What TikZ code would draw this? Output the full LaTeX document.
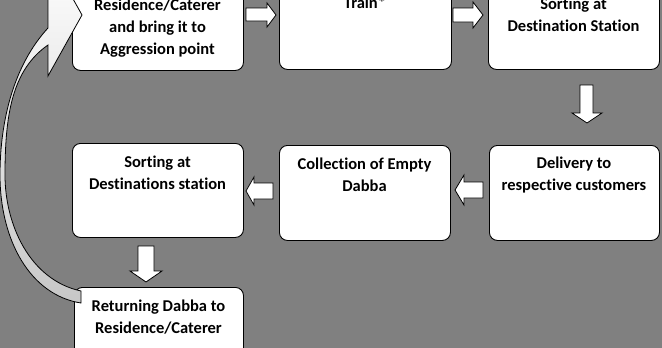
\documentclass[tikz,border=0pt]{standalone}
\usepackage{fontspec}
\setmainfont{Carlito}[Ligatures={NoCommon}]
\begin{document}
\begin{tikzpicture}[x=1pt,y=-1pt,
  box/.style={draw=black, line width=0.9pt, fill=white, rounded corners=8pt, inner sep=0pt, anchor=north west},
  blk/.style={draw=black, line width=0.8pt, fill=white, line join=miter},
  txt/.style={anchor=north, inner sep=0pt, align=center, font=\fontsize{16.5}{22}\selectfont\bfseries}]
\clip (0,0) rectangle (662,348);
\fill[black!50] (0,0) rectangle (662,348);
% boxes
\node[box, minimum width=171pt, minimum height=95pt] (b1) at (72,-25) {};
\node[box, minimum width=172pt, minimum height=94pt] (b2) at (279,-25) {};
\node[box, minimum width=171pt, minimum height=94pt] (b3) at (488,-25) {};
\node[box, minimum width=171pt, minimum height=94pt] (b4) at (72,143) {};
\node[box, minimum width=171pt, minimum height=95pt] (b5) at (279,145) {};
\node[box, minimum width=170pt, minimum height=95pt] (b6) at (489,145) {};
\node[box, minimum width=169pt, minimum height=95pt] (b7) at (74,287) {};
% texts
\node[txt] (t1) at (157.5,-5.4) {\strut Residence/Caterer\\and bring it to\\Aggression point};
\node[txt] (t2) at (365,-7.4) {\strut Train*};
\node[txt] (t3) at (573.5,-6.4) {\strut Sorting at\\Destination Station};
\node[txt] (t4) at (157.5,151.6) {\strut Sorting at\\Destinations station};
\node[txt] (t5) at (364.5,153.6) {\strut Collection of Empty\\Dabba};
\node[txt] (t6) at (574,152.6) {\strut Delivery to\\respective customers};
\node[txt] (t7) at (158.5,295.6) {\strut Returning Dabba to\\Residence/Caterer};
% block arrows
\draw[blk] (246,8) -- (267,8) -- (267,3) -- (276,15) -- (267,27) -- (267,21) -- (246,21) -- cycle;
\draw[blk] (453,8) -- (473,8) -- (473,2) -- (483,15) -- (473,28) -- (473,22) -- (453,22) -- cycle;
\draw[blk] (580,85) -- (593,85) -- (593,113) -- (602,113) -- (587,123) -- (572,113) -- (580,113) -- cycle;
\draw[blk] (483,182) -- (464,182) -- (464,175) -- (455,190) -- (464,205) -- (464,198) -- (483,198) -- cycle;
\draw[blk] (273,183) -- (254,183) -- (254,177) -- (246,191) -- (254,205) -- (254,199) -- (273,199) -- cycle;
\draw[blk] (138,246) -- (154,246) -- (154,271) -- (162,271) -- (146,282) -- (130,271) -- (138,271) -- cycle;
% curved return arrow
\path[draw=black, line width=0.8pt, line join=miter, top color=white, middle color=white, bottom color=black!22]
  (48,-46) -- (82,15) -- (48,76) -- (48,45)
  .. controls (12,70) and (5,115) .. (5,175)
  .. controls (5,225) and (30,280) .. (81,291) -- (81,303)
  .. controls (30,295) and (0,240) .. (0,175)
  .. controls (0,120) and (14,65) .. (48,28) -- cycle;
\end{tikzpicture}
\end{document}
